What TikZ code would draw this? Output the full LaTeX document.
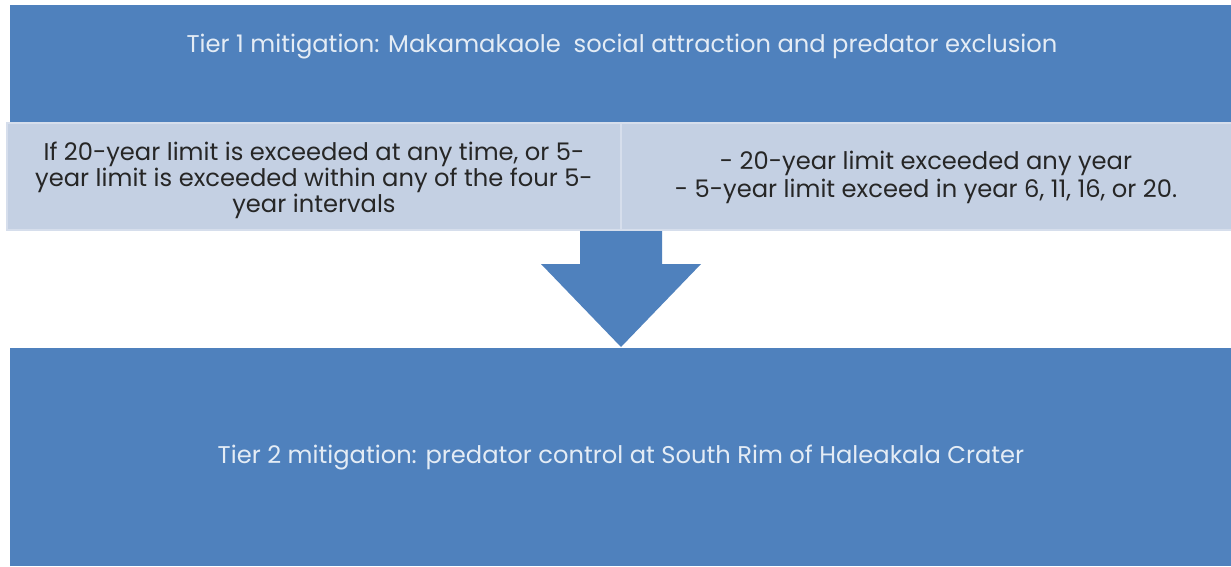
\documentclass[tikz,border=0pt]{standalone}
\usepackage{fontspec}
\setmainfont{Poppins}
\definecolor{tierblue}{HTML}{4F81BD}
\definecolor{bandblue}{HTML}{C4D0E3}
\definecolor{bandedge}{HTML}{D6DEEC}
\definecolor{lighttext}{HTML}{E4ECF5}
\definecolor{darktext}{HTML}{262626}
\tikzset{
  tierbox/.style={fill=tierblue, draw=none, inner sep=0pt},
  bandbox/.style={fill=bandblue, draw=bandedge, line width=2pt, inner sep=0pt},
  lightlabel/.style={text=lighttext, inner sep=0pt, font=\fontsize{24.2}{26}\selectfont},
  darklabel/.style={text=darktext, align=center, inner sep=0pt, font=\fontsize{24.2}{26}\selectfont},
  flowarrow/.style={fill=tierblue, draw=none}
}
\begin{document}
\begin{tikzpicture}[x=1pt,y=-1pt]
\useasboundingbox (0,0) rectangle (1231,566);
\fill[white] (0,0) rectangle (1231,566);
% top box
\node[tierbox, minimum width=1221pt, minimum height=117pt, anchor=north west] (tier1) at (10,5) {};
\node[lightlabel] (t1text) at (622,47) {Tier 1 mitigation: Makamakaole\ \ social attraction and predator exclusion};
% bottom box
\node[tierbox, minimum width=1221pt, minimum height=218pt, anchor=north west] (tier2) at (10,348) {};
\node[lightlabel] (t2text) at (621,458) {Tier 2 mitigation: predator control at South Rim of Haleakala Crater};
% arrow
\fill[flowarrow] (580,228) -- (662,228) -- (662,264) -- (701,264) -- (621,347) -- (541,264) -- (580,264) -- cycle;
% band
\node[bandbox, minimum width=614pt, minimum height=107pt, anchor=north west] (bandL) at (6,122) {};
\node[bandbox, minimum width=611pt, minimum height=107pt, anchor=north west] (bandR) at (620,122) {};
\node[darklabel] (lt) at (314,180) {If 20-year limit is exceeded at any time, or 5-\\year limit is exceeded within any of the four 5-\\year intervals};
\node[darklabel, font=\fontsize{24.2}{28}\selectfont] (rt) at (926,177) {- 20-year limit exceeded any year\\- 5-year limit exceed in year 6, 11, 16, or 20.};
\end{tikzpicture}
\end{document}
